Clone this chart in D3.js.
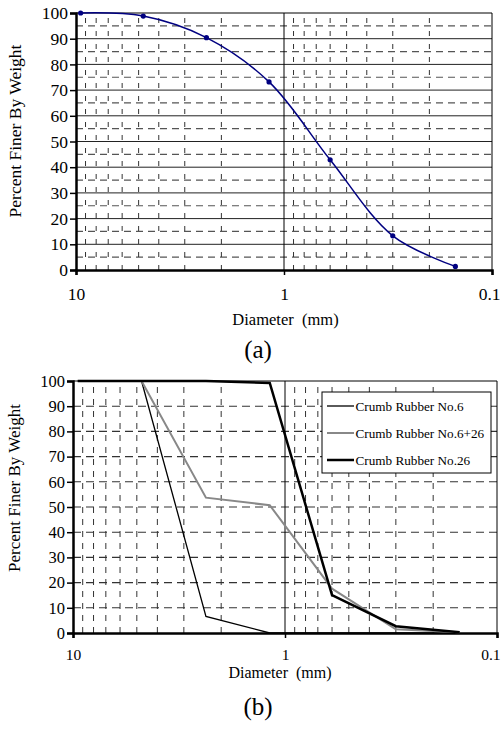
<!DOCTYPE html>
<html>
<head>
<meta charset="utf-8">
<script src="https://cdn.jsdelivr.net/npm/d3@7"></script>
<style>
  body { margin: 0; background: #fff; }
</style>
</head>
<body>
<div id="chart"></div>
<script>
// sieve sizes (mm) and percent passing
const sieveSizes = [9.5, 4.75, 2.36, 1.18, 0.6, 0.3, 0.15];
const gradationA = [100, 98.8, 90.4, 73.2, 42.9, 13.3, 1.4];
const rubberNo6 = [100, 100, 6.6, 0, 0, 0, 0];
const rubberNo6_26 = [100, 100, 53.7, 50.7, 17.6, 1.5, 0.3];
const rubberNo26 = [100, 100, 100, 99.2, 15, 2.7, 0.3];
const seriesNames = ['Crumb Rubber No.6', 'Crumb Rubber No.6+26', 'Crumb Rubber No.26'];
const yTicks = [0, 10, 20, 30, 40, 50, 60, 70, 80, 90, 100];
const xTicks = [10, 1, 0.1];

const FONT = "'Liberation Serif', 'Times New Roman', serif";
const width = 501, height = 732;
const svg = d3.select('#chart').append('svg')
    .attr('width', width).attr('height', height);

// minor log positions for gridlines
const minorX = [];
[1, 0.1].forEach(dec => { for (let k = 2; k <= 9; k++) minorX.push(dec * k); });

function panel(area, opts) {
    const x = d3.scaleLog().domain([10, 0.1]).range([area.left, area.right]);
    const y = d3.scaleLinear().domain([0, 100]).range([area.bottom, area.top]);
    const g = svg.append('g');

    // horizontal grid
    if (opts.halfLines) {
        d3.range(5, 100, 10).forEach(v => {
            g.append('line').attr('x1', area.left).attr('x2', area.right)
                .attr('y1', y(v)).attr('y2', y(v))
                .attr('stroke', '#555').attr('stroke-width', 1.2).attr('stroke-dasharray', '7,5');
        });
    }
    d3.range(10, 100, 10).forEach(v => {
        g.append('line').attr('x1', area.left).attr('x2', area.right)
            .attr('y1', y(v)).attr('y2', y(v))
            .attr('stroke', opts.solidH ? '#222' : '#333')
            .attr('stroke-width', opts.solidH ? 1 : 1.1)
            .attr('stroke-dasharray', opts.solidH ? null : '8,5');
    });

    // vertical minor grid
    minorX.forEach(v => {
        g.append('line').attr('x1', x(v)).attr('x2', x(v))
            .attr('y1', area.bottom).attr('y2', area.top)
            .attr('stroke', '#333').attr('stroke-width', 1)
            .attr('stroke-dasharray', opts.vDash);
    });
    g.append('line').attr('x1', x(1)).attr('x2', x(1))
        .attr('y1', area.bottom).attr('y2', area.top)
        .attr('stroke', '#000').attr('stroke-width', 1);

    // border top/right
    g.append('line').attr('x1', area.left).attr('x2', area.right)
        .attr('y1', area.top).attr('y2', area.top).attr('stroke', '#000').attr('stroke-width', 1);
    g.append('line').attr('x1', area.right).attr('x2', area.right)
        .attr('y1', area.top).attr('y2', area.bottom).attr('stroke', '#000').attr('stroke-width', 1);

    // axes
    const yAxis = g.append('g').attr('transform', `translate(${area.left},0)`)
        .call(d3.axisLeft(y).tickValues(yTicks).tickSize(6).tickPadding(2).tickFormat(d3.format('d')));
    yAxis.attr('font-family', FONT).attr('font-size', opts.fs);
    yAxis.select('.domain').attr('stroke-width', 2.5);
    yAxis.selectAll('.tick line').attr('stroke-width', 1.5);
    yAxis.selectAll('text').attr('fill', '#000');

    const xAxis = g.append('g').attr('transform', `translate(0,${area.bottom})`)
        .call(d3.axisBottom(x).tickValues(xTicks).tickSize(5).tickPadding(opts.xPad).tickFormat(d => String(d)));
    xAxis.attr('font-family', FONT).attr('font-size', opts.xfs);
    xAxis.select('.domain').attr('stroke-width', 2.5);
    xAxis.selectAll('.tick line').attr('stroke-width', 1.5);
    xAxis.selectAll('text').attr('fill', '#000');
    // last label sits at the page edge: keep it inside
    xAxis.selectAll('.tick').filter(d => d === 0.1).select('text')
        .attr('text-anchor', 'end').attr('x', width - 1 - x(0.1));

    g.append('text').attr('text-anchor', 'middle')
        .attr('transform', 'rotate(-90)')
        .attr('x', -opts.yTitleY).attr('y', opts.yTitleX)
        .attr('font-family', FONT).attr('font-size', opts.yTitleFs)
        .text('Percent Finer By Weight');
    g.append('text').attr('text-anchor', 'middle')
        .attr('x', opts.xTitleX).attr('y', opts.xTitleY)
        .attr('font-family', FONT).attr('font-size', opts.xTitleFs)
        .style('white-space', 'pre')
        .text('Diameter  (mm)');
    g.append('text').attr('text-anchor', 'middle')
        .attr('x', 258).attr('y', opts.capY)
        .attr('font-family', FONT).attr('font-size', 25)
        .text(opts.caption);

    return { x, y, g };
}

// (a)
const a = panel({ left: 76, right: 492, top: 13, bottom: 270 },
    { halfLines: true, solidH: true, vDash: '5,8', fs: 17.5, xfs: 17.5, xPad: 13,
      yTitleX: 21, yTitleY: 131, yTitleFs: 17.5,
      xTitleX: 285.5, xTitleY: 325, xTitleFs: 16.5, capY: 358, caption: '(a)' });
const ptsA = sieveSizes.map((d, i) => [d, gradationA[i]]);
a.g.append('path').datum(ptsA)
    .attr('fill', 'none').attr('stroke', '#000080').attr('stroke-width', 1.5)
    .attr('d', d3.line().x(d => a.x(d[0])).y(d => a.y(d[1])).curve(d3.curveCatmullRom.alpha(0.5)));
a.g.selectAll('circle.pt').data(ptsA).join('circle')
    .attr('cx', d => a.x(d[0])).attr('cy', d => a.y(d[1])).attr('r', 2.6)
    .attr('fill', '#000080');

// (b)
const b = panel({ left: 73, right: 497, top: 381, bottom: 633 },
    { halfLines: false, solidH: false, vDash: '6,6', fs: 16.5, xfs: 15.5, xPad: 11,
      yTitleX: 20, yTitleY: 488, yTitleFs: 17,
      xTitleX: 280, xTitleY: 678, xTitleFs: 16, capY: 715, caption: '(b)' });
const seriesB = [
    { name: seriesNames[0], values: rubberNo6, color: '#000', w: 1.3 },
    { name: seriesNames[1], values: rubberNo6_26, color: '#888', w: 2 },
    { name: seriesNames[2], values: rubberNo26, color: '#000', w: 2.5 }
];
const lineB = d3.line().x(d => b.x(d[0])).y(d => b.y(d[1]));
seriesB.forEach(s => {
    b.g.append('path').datum(sieveSizes.map((d, i) => [d, s.values[i]]))
        .attr('fill', 'none').attr('stroke', s.color).attr('stroke-width', s.w)
        .attr('d', lineB);
});

// legend
const lg = b.g.append('g').attr('transform', 'translate(322,392)');
lg.append('rect').attr('width', 169).attr('height', 81)
    .attr('fill', '#fff').attr('stroke', '#000').attr('stroke-width', 1);
seriesB.forEach((s, i) => {
    const yy = 14 + i * 27;
    lg.append('line').attr('x1', 5).attr('x2', 32).attr('y1', yy).attr('y2', yy)
        .attr('stroke', s.color).attr('stroke-width', s.w);
    lg.append('text').attr('x', 33.5).attr('y', yy + 4.5)
        .attr('font-family', FONT).attr('font-size', 13.2).text(s.name);
});
</script>
</body>
</html>
